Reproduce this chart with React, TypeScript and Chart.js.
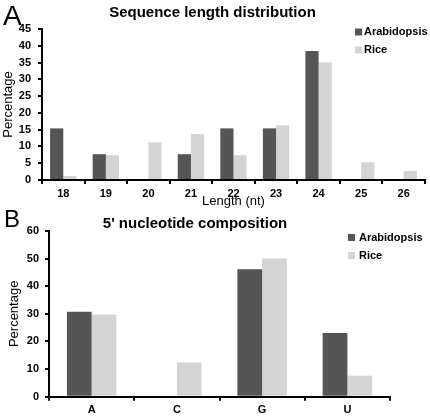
import React, { useEffect, useRef } from "react";
import { Chart, registerables } from "chart.js";

Chart.register(...registerables);

const lengthLabels = ["18", "19", "20", "21", "22", "23", "24", "25", "26"];
const arabidopsisLength = [15.38, 7.69, 0, 7.69, 15.38, 15.38, 38.46, 0, 0];
const riceLength = [1.2, 7.4, 11.2, 13.7, 7.4, 16.3, 35.0, 5.3, 2.7];

const nucleotideLabels = ["A", "C", "G", "U"];
const arabidopsisNucleotide = [30.77, 0, 46.15, 23.08];
const riceNucleotide = [29.8, 12.4, 50.0, 7.6];

const seriesNames = ["Arabidopsis", "Rice"];
const seriesColors = ["#555555", "#d4d4d4"];

const FONT = "'Liberation Sans', Arial, Helvetica, sans-serif";

const legendPlugin = {
  id: "customLegend",
  afterDraw(chart: any, _args: any, opts: any) {
    const ctx = chart.ctx;
    ctx.save();
    ctx.font = `bold 11px ${FONT}`;
    ctx.textBaseline = "middle";
    ctx.textAlign = "left";
    seriesNames.forEach((name, i) => {
      const y = opts.y + i * opts.gap;
      ctx.fillStyle = seriesColors[i];
      ctx.fillRect(opts.x, y - 3.5, 7, 7);
      ctx.fillStyle = "#000";
      ctx.fillText(name, opts.x + opts.textGap, y);
    });
    ctx.restore();
  },
};

const panelPlugin = {
  id: "panelLetter",
  afterDraw(chart: any, _args: any, opts: any) {
    const ctx = chart.ctx;
    ctx.save();
    ctx.font = `${opts.size}px ${FONT}`;
    ctx.textBaseline = "alphabetic";
    ctx.textAlign = "left";
    ctx.fillStyle = "#000";
    ctx.fillText(opts.text, opts.x, opts.y);
    ctx.restore();
  },
};

function makeScales(opts: {
  max: number;
  step: number;
  yWidth: number;
  xHeight: number;
  xTitle?: string;
  yTitlePad: number;
  yTickPad: number;
  xTickPad: number;
}) {
  const tickFont = { size: 11, weight: "bold" as const, family: FONT };
  const grid = {
    display: true,
    drawOnChartArea: false,
    drawTicks: true,
    tickLength: 4,
    color: "#000",
    lineWidth: 2,
  };
  const border = { display: true, color: "#000", width: 2 };
  return {
    x: {
      type: "category" as const,
      offset: true,
      grid: { ...grid, offset: true },
      border,
      ticks: {
        font: tickFont,
        color: "#000",
        padding: opts.xTickPad,
        maxRotation: 0,
        autoSkip: false,
      },
      title: {
        display: !!opts.xTitle,
        text: opts.xTitle || "",
        font: { size: 13, family: FONT },
        color: "#000",
        padding: { top: 0, bottom: 1 },
      },
      afterFit: (s: any) => {
        s.height = opts.xHeight;
      },
    },
    y: {
      min: 0,
      max: opts.max,
      grid,
      border,
      ticks: {
        stepSize: opts.step,
        font: tickFont,
        color: "#000",
        padding: opts.yTickPad,
      },
      title: {
        display: true,
        text: "Percentage",
        font: { size: 13, family: FONT },
        color: "#000",
        padding: { top: opts.yTitlePad, bottom: 0 },
      },
      afterFit: (s: any) => {
        s.width = opts.yWidth;
      },
    },
  };
}

function BarPanel(props: {
  top: number;
  height: number;
  labels: string[];
  a: number[];
  r: number[];
  title: string;
  titlePad: { top: number; bottom: number };
  scales: any;
  padRight: number;
  catPct: number;
  legend: { x: number; y: number; gap: number; textGap: number };
  letter: { text: string; x: number; y: number; size: number };
}) {
  const ref = useRef<HTMLCanvasElement | null>(null);
  useEffect(() => {
    if (!ref.current) return;
    const chart = new Chart(ref.current, {
      type: "bar",
      data: {
        labels: props.labels,
        datasets: [
          {
            label: seriesNames[0],
            data: props.a,
            backgroundColor: seriesColors[0],
            borderWidth: 0,
            categoryPercentage: props.catPct,
            barPercentage: 1,
          },
          {
            label: seriesNames[1],
            data: props.r,
            backgroundColor: seriesColors[1],
            borderWidth: 0,
            categoryPercentage: props.catPct,
            barPercentage: 1,
          },
        ],
      },
      options: {
        animation: false,
        responsive: false,
        maintainAspectRatio: false,
        devicePixelRatio: 1,
        layout: { padding: { left: 0, right: props.padRight, top: 0, bottom: 0 } },
        plugins: {
          legend: { display: false },
          tooltip: { enabled: false },
          title: {
            display: true,
            text: props.title,
            color: "#000",
            font: { size: 15, weight: "bold", family: FONT, lineHeight: 1 },
            padding: props.titlePad,
          },
          customLegend: props.legend,
          panelLetter: props.letter,
        } as any,
        scales: props.scales,
      },
      plugins: [legendPlugin, panelPlugin],
    });
    return () => chart.destroy();
  }, []);
  return (
    <canvas
      ref={ref}
      width={430}
      height={props.height}
      style={{ position: "absolute", left: 0, top: props.top, width: 430, height: props.height }}
    />
  );
}

export default function App() {
  return (
    <div style={{ position: "absolute", left: 0, top: 0, width: 430, height: 416, background: "#fff" }}>
      <BarPanel
        top={0}
        height={210}
        labels={lengthLabels}
        a={arabidopsisLength}
        r={riceLength}
        title="Sequence length distribution"
        titlePad={{ top: 5, bottom: 9 }}
        scales={makeScales({ max: 45, step: 5, yWidth: 42, xHeight: 30, xTitle: "Length (nt)", yTitlePad: 1, yTickPad: 7, xTickPad: 3 })}
        padRight={5}
        catPct={0.62}
        legend={{ x: 355, y: 32, gap: 18, textGap: 9 }}
        letter={{ text: "A", x: 3, y: 25, size: 28 }}
      />
      <BarPanel
        top={206}
        height={210}
        labels={nucleotideLabels}
        a={arabidopsisNucleotide}
        r={riceNucleotide}
        title="5' nucleotide composition"
        titlePad={{ top: 10, bottom: 0 }}
        scales={makeScales({ max: 60, step: 10, yWidth: 49, xHeight: 19.3, yTitlePad: 6.5, yTickPad: 6, xTickPad: 3 })}
        padRight={40}
        catPct={0.58}
        legend={{ x: 348, y: 31.5, gap: 18, textGap: 11 }}
        letter={{ text: "B", x: 4, y: 20.5, size: 24 }}
      />
    </div>
  );
}
